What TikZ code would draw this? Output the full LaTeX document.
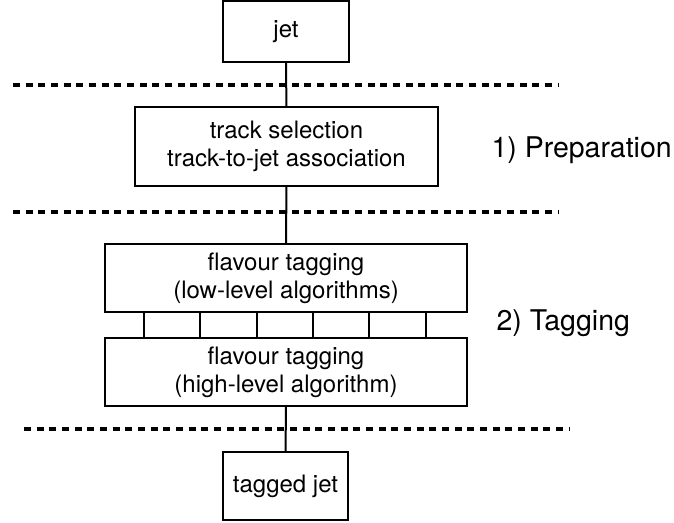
\documentclass[tikz,border=0pt]{standalone}
\usepackage{fontspec}
\setmainfont{TeX Gyre Heros}
\usepackage{tikz}
\usetikzlibrary{calc}

\tikzset{
  stage/.style={draw,line width=2pt,inner sep=0pt,align=center,
    font=\fontsize{24}{28}\selectfont},
  link/.style={line width=2pt},
  cut/.style={line width=3.3pt,dash pattern=on 7pt off 5.67pt},
  phase/.style={anchor=base west,font=\fontsize{28.5}{32}\selectfont}
}

\begin{document}
\begin{tikzpicture}[x=1pt,y=-1pt]
      \useasboundingbox (0,0) rectangle (674,522);
      % stages of the chain
      \node[stage,minimum width=126pt,minimum height=61pt] (jet) at (286,31.5) {jet};
      \node[stage,minimum width=303pt,minimum height=79pt] (prep) at (286.5,146.5) {track selection\\track-to-jet association};
      \node[stage,minimum width=362pt,minimum height=68pt] (low) at (286,278) {flavour tagging\\(low-level algorithms)};
      \node[stage,minimum width=362pt,minimum height=68pt] (high) at (286,372) {flavour tagging\\(high-level algorithm)};
      \node[stage,minimum width=125pt,minimum height=68pt] (tagged) at (285.5,486) {tagged jet};
      % separators
      \coordinate (s1l) at (13,85);  \coordinate (s1r) at (558,85);
      \coordinate (s2l) at (13,212); \coordinate (s2r) at (558,212);
      \coordinate (s3l) at (24,429); \coordinate (s3r) at (569,429);
      \draw[cut] (s1l) -- (s1r);
      \draw[cut] (s2l) -- (s2r);
      \draw[cut] (s3l) -- (s3r);
      \draw[link] (jet) -- (prep);
      \draw[link] (prep) -- (low);
      \draw[link] (high) -- (tagged);
      % outputs of the low-level taggers
      \foreach \x in {144,200,257,313,369,426} {
        \coordinate (c) at (\x,0);
        \draw[line width=1.6pt] (low.south -| c) -- (high.north -| c);
      }
      \node[phase] (p1) at (488,157) {1) Preparation};
      \node[phase] (p2) at (493,330) {2) Tagging};
   \end{tikzpicture}
\end{document}
